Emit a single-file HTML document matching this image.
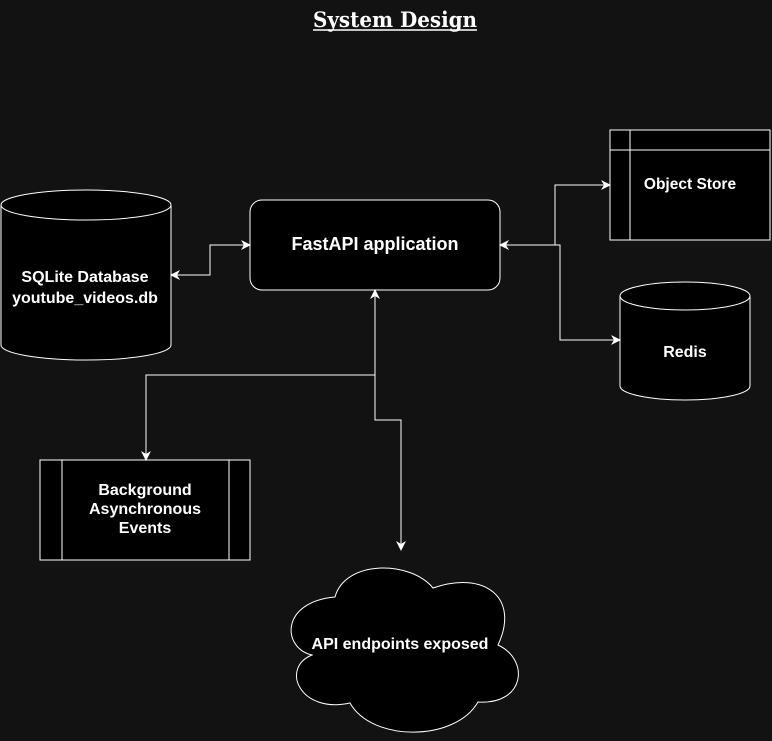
<!DOCTYPE html>
<html><head><meta charset="utf-8"><style>
html,body{margin:0;padding:0;background:#121212;}
svg{display:block}
text{font-family:"Liberation Sans",Arial,sans-serif;font-weight:bold;fill:#fff;text-anchor:middle}
</style></head><body>
<svg width="772" height="741" viewBox="0 0 772 741" xmlns="http://www.w3.org/2000/svg">
<defs>
<marker id="a" viewBox="0 0 10 10" refX="9" refY="5" markerWidth="10" markerHeight="10" markerUnits="userSpaceOnUse" orient="auto-start-reverse">
<path d="M0,0 L10,5 L0,10 L3,5 Z" fill="#fff"/>
</marker>
</defs>
<rect width="772" height="741" fill="#121212"/>
<text x="395" y="27" style="font-family:'DejaVu Serif','Liberation Serif',serif;font-size:21px" textLength="164" lengthAdjust="spacingAndGlyphs">System Design</text>
<line x1="313" y1="30" x2="477" y2="30" stroke="#fff" stroke-width="1.5"/>

<path d="M1,205 L1,345 A85,15 0 0 0 171,345 L171,205 A85,15 0 0 0 1,205 Z" fill="#000" stroke="#fff" stroke-width="1"/>
<path d="M1,205 A85,15 0 0 0 171,205" fill="none" stroke="#fff" stroke-width="1"/>
<text x="85" y="282" font-size="16">SQLite Database</text>
<text x="85" y="303" font-size="16">youtube_videos.db</text>

<rect x="250" y="200" width="250" height="90" rx="12" fill="#000" stroke="#fff" stroke-width="1"/>
<text x="375" y="250" font-size="18">FastAPI application</text>

<rect x="610" y="130" width="160" height="110" fill="#000" stroke="#fff" stroke-width="1"/>
<line x1="630" y1="130" x2="630" y2="240" stroke="#fff"/>
<line x1="610" y1="150" x2="770" y2="150" stroke="#fff"/>
<text x="690" y="189" font-size="15.5">Object Store</text>

<path d="M620,296 L620,386 A65,14 0 0 0 750,386 L750,296 A65,14 0 0 0 620,296 Z" fill="#000" stroke="#fff" stroke-width="1"/>
<path d="M620,296 A65,14 0 0 0 750,296" fill="none" stroke="#fff" stroke-width="1"/>
<text x="685" y="357" font-size="16">Redis</text>

<rect x="40" y="460" width="210" height="100" fill="#000" stroke="#fff" stroke-width="1"/>
<line x1="62" y1="460" x2="62" y2="560" stroke="#fff"/>
<line x1="229" y1="460" x2="229" y2="560" stroke="#fff"/>
<text x="145" y="495" font-size="16">Background</text>
<text x="145" y="514" font-size="16">Asynchronous</text>
<text x="145" y="533" font-size="16">Events</text>

<path d="M312,655 C282,648 280,602 335,597 C345,560 410,560 433,588 C485,570 520,598 498,645 C530,660 525,705 478,702 C455,742 372,742 350,703 C300,714 280,668 312,655 Z" fill="#000" stroke="#fff" stroke-width="1"/>
<text x="400" y="649" font-size="16">API endpoints exposed</text>

<g fill="none" stroke="#fff" stroke-width="1">
<path d="M171,275 L210,275 L210,245 L250,245" marker-start="url(#a)" marker-end="url(#a)"/>
<path d="M500,245 L555,245 L555,185 L610,185" marker-start="url(#a)" marker-end="url(#a)"/>
<path d="M555,245 L560,245 L560,340 L620,340" marker-end="url(#a)"/>
<path d="M375,375 L375,290" marker-end="url(#a)"/>
<path d="M375,375 L146,375 L146,460" marker-end="url(#a)"/>
<path d="M375,375 L375,420 L401,420 L401,550" marker-end="url(#a)"/>
</g>
</svg>
</body></html>
